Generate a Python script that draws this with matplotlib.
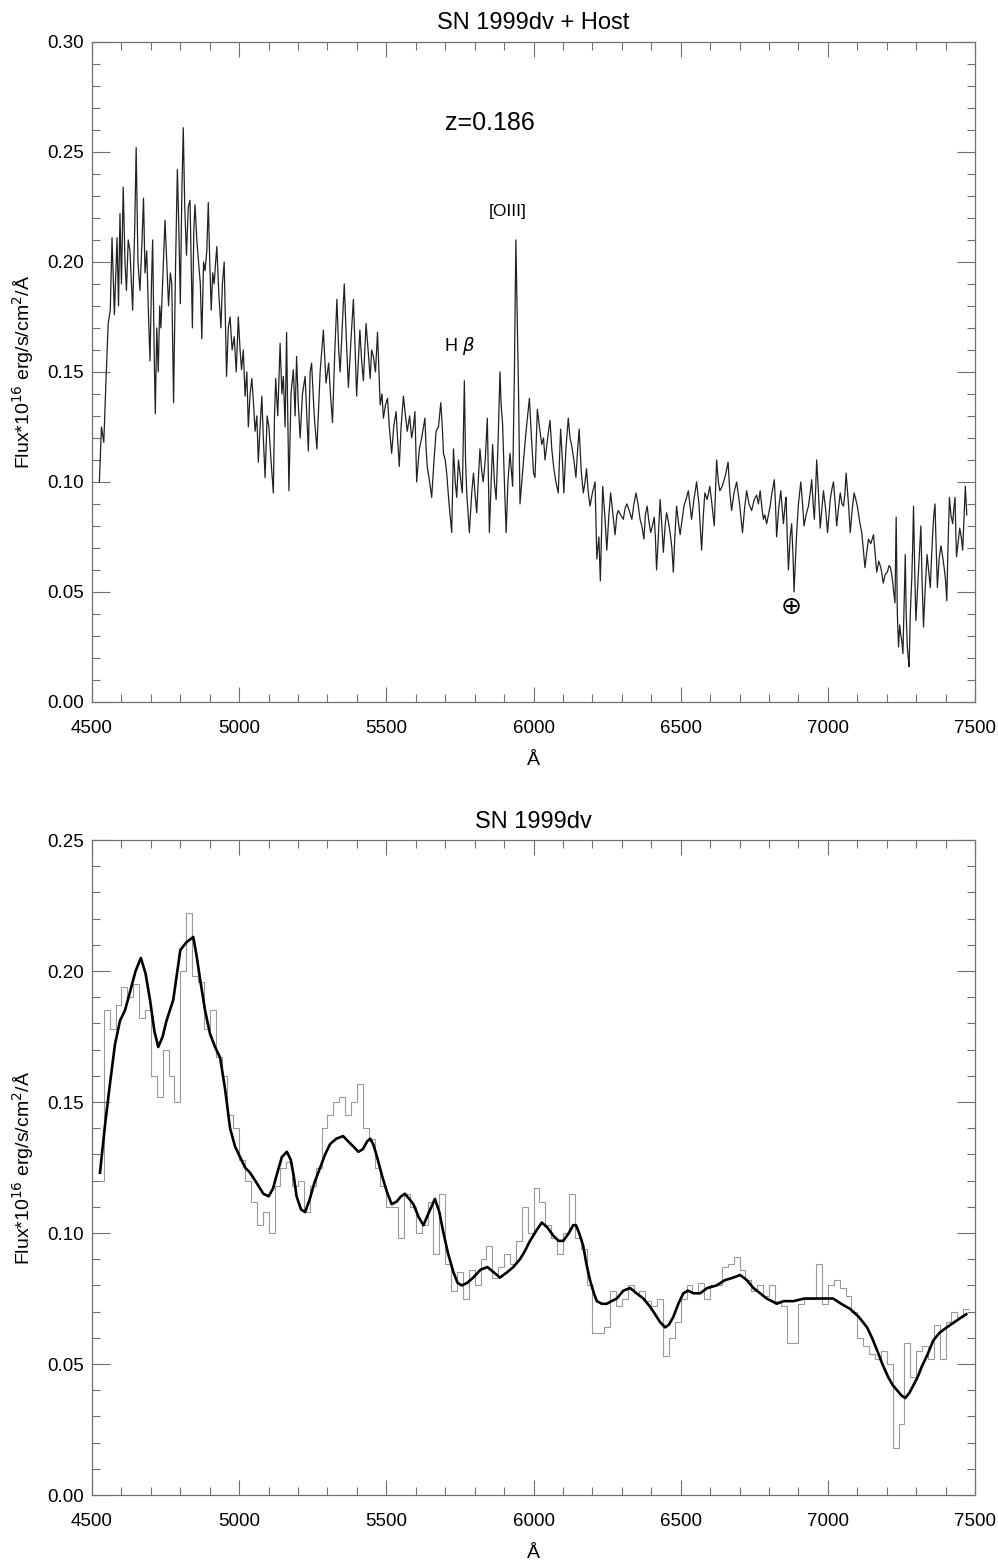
import numpy as np
import matplotlib
matplotlib.use('Agg')
import matplotlib.pyplot as plt
from matplotlib.ticker import MultipleLocator

plt.rcParams['font.family'] = ['Liberation Sans', 'DejaVu Sans']

# --- SN + host spectrum (top panel) ---
wave_host = [
    4525, 4532, 4540, 4548, 4555, 4562, 4568, 4576, 4585, 4590, 4595, 4600, 4606, 4612, 4617, 4623,
    4629, 4634, 4638, 4645, 4650, 4656, 4663, 4670, 4675, 4680, 4686, 4692, 4697, 4702, 4706, 4711,
    4715, 4720, 4725, 4730, 4734, 4741, 4748, 4754, 4760, 4766, 4771, 4777, 4784, 4790, 4795, 4800,
    4805, 4810, 4815, 4821, 4827, 4833, 4837, 4841, 4846, 4850, 4856, 4862, 4868, 4873, 4879, 4884,
    4890, 4895, 4900, 4905, 4910, 4915, 4920, 4924, 4931, 4938, 4943, 4949, 4953, 4957, 4963, 4969,
    4976, 4983, 4990, 4997, 5003, 5008, 5014, 5020, 5026, 5031, 5037, 5043, 5049, 5054, 5060, 5065,
    5071, 5077, 5082, 5088, 5095, 5101, 5108, 5116, 5120, 5124, 5131, 5139, 5145, 5150, 5156, 5161,
    5165, 5169, 5176, 5184, 5190, 5195, 5201, 5207, 5215, 5224, 5230, 5235, 5241, 5246, 5255, 5264,
    5275, 5286, 5295, 5304, 5310, 5317, 5325, 5332, 5338, 5343, 5350, 5357, 5364, 5371, 5380, 5388,
    5394, 5399, 5405, 5410, 5416, 5422, 5427, 5431, 5438, 5445, 5450, 5456, 5463, 5470, 5475, 5479,
    5485, 5490, 5497, 5504, 5510, 5518, 5525, 5533, 5538, 5544, 5550, 5558, 5565, 5571, 5579, 5586,
    5592, 5597, 5603, 5612, 5620, 5626, 5631, 5635, 5639, 5647, 5654, 5662, 5669, 5677, 5685, 5690,
    5694, 5700, 5705, 5713, 5722, 5728, 5734, 5739, 5745, 5750, 5758, 5765, 5769, 5773, 5778, 5782,
    5790, 5796, 5801, 5807, 5812, 5818, 5824, 5829, 5836, 5843, 5847, 5850, 5856, 5861, 5867, 5873,
    5880, 5886, 5890, 5895, 5901, 5907, 5913, 5920, 5925, 5929, 5935, 5940, 5945, 5949, 5954, 5960,
    5968, 5976, 5986, 5993, 6000, 6005, 6013, 6020, 6028, 6034, 6039, 6048, 6056, 6062, 6069, 6076,
    6084, 6092, 6098, 6103, 6110, 6118, 6124, 6129, 6137, 6144, 6150, 6155, 6162, 6169, 6175, 6180,
    6186, 6192, 6200, 6209, 6215, 6222, 6227, 6235, 6242, 6249, 6256, 6262, 6270, 6277, 6283, 6288,
    6296, 6305, 6311, 6317, 6325, 6334, 6341, 6348, 6355, 6362, 6368, 6375, 6380, 6386, 6392, 6398,
    6404, 6410, 6414, 6418, 6424, 6430, 6436, 6441, 6447, 6452, 6458, 6464, 6470, 6475, 6480, 6486,
    6492, 6498, 6505, 6511, 6518, 6526, 6531, 6537, 6545, 6554, 6562, 6571, 6577, 6582, 6590, 6599,
    6606, 6614, 6618, 6622, 6628, 6633, 6641, 6650, 6655, 6661, 6667, 6673, 6681, 6690, 6700, 6710,
    6717, 6724, 6732, 6741, 6750, 6758, 6764, 6770, 6776, 6781, 6786, 6792, 6798, 6804, 6810, 6818,
    6822, 6826, 6833, 6840, 6845, 6849, 6855, 6858, 6862, 6866, 6872, 6877, 6882, 6885, 6890, 6894,
    6900, 6908, 6914, 6919, 6926, 6934, 6940, 6945, 6950, 6954, 6958, 6962, 6968, 6974, 6980, 6985,
    6992, 6999, 7004, 7008, 7014, 7019, 7025, 7030, 7036, 7042, 7048, 7053, 7058, 7062, 7070, 7076,
    7083, 7089, 7095, 7100, 7108, 7115, 7120, 7126, 7132, 7138, 7146, 7155, 7160, 7166, 7173, 7180,
    7184, 7188, 7195, 7202, 7208, 7213, 7218, 7222, 7228, 7232, 7236, 7240, 7244, 7247, 7251, 7255,
    7259, 7263, 7266, 7270, 7273, 7276, 7280, 7285, 7288, 7291, 7295, 7299, 7304, 7308, 7312, 7316,
    7320, 7325, 7330, 7337, 7342, 7348, 7352, 7357, 7360, 7364, 7368, 7372, 7378, 7384, 7390, 7395,
    7400, 7404, 7408, 7413, 7418, 7424, 7428, 7432, 7435, 7437, 7442, 7448, 7453, 7458, 7463, 7467,
    7472]
flux_host = [
    0.100, 0.125, 0.118, 0.148, 0.172, 0.178, 0.211, 0.176, 0.211, 0.180, 0.222, 0.190, 0.234, 0.200, 0.187, 0.210,
    0.205, 0.190, 0.178, 0.215, 0.252, 0.200, 0.187, 0.210, 0.229, 0.195, 0.205, 0.175, 0.155, 0.190, 0.210, 0.160,
    0.131, 0.170, 0.150, 0.180, 0.170, 0.195, 0.219, 0.200, 0.180, 0.195, 0.190, 0.136, 0.200, 0.242, 0.215, 0.181,
    0.230, 0.261, 0.225, 0.203, 0.225, 0.228, 0.200, 0.170, 0.215, 0.226, 0.210, 0.200, 0.190, 0.165, 0.200, 0.196,
    0.205, 0.227, 0.200, 0.178, 0.195, 0.190, 0.200, 0.207, 0.185, 0.170, 0.190, 0.200, 0.175, 0.148, 0.170, 0.175,
    0.160, 0.166, 0.150, 0.175, 0.160, 0.151, 0.160, 0.139, 0.150, 0.125, 0.140, 0.147, 0.135, 0.123, 0.130, 0.109,
    0.125, 0.139, 0.120, 0.102, 0.130, 0.125, 0.110, 0.095, 0.130, 0.147, 0.130, 0.163, 0.140, 0.148, 0.125, 0.168,
    0.130, 0.096, 0.140, 0.151, 0.130, 0.157, 0.135, 0.120, 0.140, 0.148, 0.130, 0.114, 0.150, 0.154, 0.130, 0.115,
    0.150, 0.169, 0.145, 0.154, 0.140, 0.127, 0.160, 0.183, 0.160, 0.150, 0.170, 0.190, 0.165, 0.143, 0.165, 0.183,
    0.160, 0.139, 0.155, 0.169, 0.155, 0.146, 0.160, 0.172, 0.160, 0.147, 0.160, 0.157, 0.150, 0.168, 0.150, 0.135,
    0.140, 0.129, 0.135, 0.138, 0.125, 0.113, 0.125, 0.132, 0.120, 0.107, 0.125, 0.139, 0.130, 0.123, 0.130, 0.120,
    0.125, 0.132, 0.100, 0.115, 0.120, 0.125, 0.129, 0.115, 0.107, 0.100, 0.093, 0.110, 0.123, 0.125, 0.136, 0.125,
    0.113, 0.110, 0.104, 0.090, 0.077, 0.115, 0.100, 0.093, 0.110, 0.104, 0.095, 0.146, 0.110, 0.095, 0.085, 0.077,
    0.095, 0.104, 0.095, 0.086, 0.100, 0.115, 0.105, 0.100, 0.110, 0.129, 0.100, 0.077, 0.100, 0.117, 0.100, 0.092,
    0.120, 0.150, 0.135, 0.126, 0.100, 0.077, 0.100, 0.113, 0.105, 0.098, 0.150, 0.210, 0.170, 0.141, 0.090, 0.100,
    0.113, 0.125, 0.138, 0.120, 0.104, 0.102, 0.133, 0.125, 0.117, 0.120, 0.110, 0.120, 0.128, 0.115, 0.106, 0.100,
    0.095, 0.124, 0.110, 0.095, 0.115, 0.129, 0.120, 0.117, 0.110, 0.102, 0.115, 0.124, 0.105, 0.095, 0.100, 0.106,
    0.095, 0.089, 0.095, 0.100, 0.065, 0.075, 0.055, 0.098, 0.085, 0.069, 0.085, 0.095, 0.085, 0.076, 0.085, 0.087,
    0.085, 0.083, 0.088, 0.090, 0.087, 0.083, 0.090, 0.095, 0.090, 0.083, 0.080, 0.074, 0.085, 0.089, 0.082, 0.077,
    0.080, 0.084, 0.075, 0.060, 0.075, 0.092, 0.080, 0.068, 0.080, 0.086, 0.082, 0.077, 0.070, 0.059, 0.075, 0.089,
    0.082, 0.076, 0.083, 0.089, 0.092, 0.096, 0.090, 0.083, 0.092, 0.100, 0.090, 0.069, 0.085, 0.095, 0.092, 0.098,
    0.090, 0.080, 0.095, 0.110, 0.100, 0.096, 0.098, 0.102, 0.105, 0.109, 0.095, 0.087, 0.095, 0.100, 0.090, 0.077,
    0.088, 0.096, 0.090, 0.087, 0.092, 0.094, 0.090, 0.096, 0.088, 0.083, 0.085, 0.081, 0.085, 0.089, 0.095, 0.101,
    0.090, 0.075, 0.088, 0.096, 0.088, 0.081, 0.090, 0.093, 0.075, 0.060, 0.075, 0.081, 0.065, 0.050, 0.065, 0.077,
    0.090, 0.100, 0.090, 0.080, 0.085, 0.089, 0.095, 0.101, 0.090, 0.083, 0.095, 0.110, 0.095, 0.079, 0.088, 0.096,
    0.088, 0.077, 0.085, 0.092, 0.097, 0.100, 0.090, 0.080, 0.088, 0.095, 0.090, 0.089, 0.095, 0.104, 0.090, 0.077,
    0.088, 0.095, 0.092, 0.089, 0.082, 0.077, 0.070, 0.061, 0.068, 0.074, 0.072, 0.076, 0.068, 0.059, 0.064, 0.061,
    0.058, 0.054, 0.058, 0.059, 0.062, 0.061, 0.057, 0.052, 0.045, 0.084, 0.040, 0.025, 0.035, 0.031, 0.028, 0.022,
    0.045, 0.067, 0.040, 0.025, 0.020, 0.016, 0.040, 0.056, 0.070, 0.089, 0.060, 0.037, 0.050, 0.061, 0.070, 0.080,
    0.055, 0.034, 0.050, 0.067, 0.060, 0.052, 0.065, 0.079, 0.085, 0.090, 0.070, 0.052, 0.065, 0.071, 0.066, 0.061,
    0.055, 0.046, 0.070, 0.093, 0.085, 0.081, 0.088, 0.093, 0.075, 0.066, 0.072, 0.079, 0.075, 0.069, 0.085, 0.098,
    0.085]

# --- SN only: binned spectrum (grey steps), 20 A bins starting at 4520 ---
flux_binned = [
    0.120, 0.185, 0.178, 0.187, 0.194, 0.190, 0.195, 0.182, 0.185, 0.160, 0.152, 0.170, 0.160, 0.150, 0.200, 0.222,
    0.198, 0.196, 0.178, 0.185, 0.167, 0.160, 0.145, 0.140, 0.128, 0.120, 0.112, 0.103, 0.108, 0.100, 0.118, 0.125,
    0.127, 0.118, 0.120, 0.108, 0.118, 0.125, 0.140, 0.145, 0.150, 0.152, 0.145, 0.150, 0.157, 0.140, 0.136, 0.125,
    0.118, 0.110, 0.110, 0.098, 0.115, 0.110, 0.100, 0.103, 0.112, 0.092, 0.115, 0.088, 0.078, 0.085, 0.075, 0.086,
    0.080, 0.090, 0.095, 0.083, 0.087, 0.092, 0.088, 0.097, 0.110, 0.100, 0.117, 0.112, 0.103, 0.098, 0.092, 0.100,
    0.115, 0.098, 0.094, 0.080, 0.062, 0.062, 0.064, 0.078, 0.072, 0.075, 0.080, 0.077, 0.078, 0.074, 0.072, 0.075,
    0.053, 0.060, 0.066, 0.075, 0.080, 0.077, 0.081, 0.075, 0.080, 0.080, 0.087, 0.088, 0.091, 0.086, 0.082, 0.078,
    0.080, 0.076, 0.080, 0.074, 0.072, 0.058, 0.058, 0.073, 0.075, 0.075, 0.088, 0.073, 0.080, 0.082, 0.079, 0.076,
    0.070, 0.060, 0.057, 0.054, 0.052, 0.055, 0.050, 0.018, 0.027, 0.058, 0.045, 0.055, 0.057, 0.052, 0.065, 0.052,
    0.066, 0.070, 0.068, 0.071]
bin_edges = 4520 + 20 * np.arange(len(flux_binned) + 1)

# --- SN only: smoothed spectrum (black line) ---
wave_smooth = [
    4527, 4545, 4561, 4578, 4595, 4612, 4629, 4648, 4666, 4682, 4697, 4712, 4725, 4740, 4753, 4776,
    4790, 4800, 4821, 4844, 4855, 4867, 4884, 4901, 4918, 4935, 4952, 4969, 4986, 5003, 5020, 5037,
    5060, 5082, 5100, 5115, 5127, 5145, 5162, 5175, 5185, 5195, 5210, 5224, 5240, 5255, 5275, 5292,
    5309, 5330, 5353, 5370, 5388, 5405, 5420, 5435, 5445, 5455, 5466, 5485, 5501, 5518, 5535, 5550,
    5563, 5578, 5592, 5610, 5626, 5645, 5665, 5680, 5694, 5710, 5728, 5742, 5756, 5775, 5795, 5820,
    5843, 5865, 5886, 5910, 5931, 5954, 5970, 5988, 6010, 6028, 6048, 6067, 6085, 6101, 6120, 6135,
    6144, 6155, 6169, 6180, 6192, 6205, 6215, 6232, 6249, 6265, 6283, 6305, 6328, 6350, 6373, 6395,
    6413, 6430, 6447, 6460, 6475, 6492, 6509, 6525, 6543, 6566, 6590, 6622, 6650, 6679, 6702, 6725,
    6747, 6770, 6792, 6810, 6826, 6850, 6883, 6920, 6963, 6990, 7018, 7045, 7076, 7105, 7133, 7150,
    7168, 7185, 7205, 7220, 7235, 7250, 7263, 7277, 7291, 7305, 7319, 7340, 7358, 7380, 7404, 7430,
    7456, 7470]
flux_smooth = [
    0.123, 0.142, 0.157, 0.172, 0.181, 0.185, 0.192, 0.200, 0.205, 0.199, 0.189, 0.177, 0.171, 0.175, 0.181, 0.189,
    0.200, 0.208, 0.211, 0.213, 0.206, 0.197, 0.185, 0.176, 0.171, 0.167, 0.155, 0.140, 0.133, 0.129, 0.125, 0.123,
    0.119, 0.115, 0.114, 0.117, 0.122, 0.129, 0.131, 0.128, 0.122, 0.114, 0.109, 0.108, 0.113, 0.119, 0.125, 0.130,
    0.134, 0.136, 0.137, 0.135, 0.133, 0.131, 0.132, 0.135, 0.136, 0.134, 0.130, 0.122, 0.116, 0.111, 0.112, 0.114,
    0.115, 0.113, 0.111, 0.106, 0.103, 0.108, 0.113, 0.108, 0.100, 0.092, 0.085, 0.081, 0.080, 0.081, 0.083, 0.086,
    0.087, 0.085, 0.083, 0.085, 0.087, 0.090, 0.093, 0.097, 0.101, 0.104, 0.102, 0.099, 0.097, 0.097, 0.100, 0.103,
    0.103, 0.100, 0.095, 0.088, 0.082, 0.077, 0.074, 0.073, 0.073, 0.074, 0.075, 0.078, 0.079, 0.077, 0.075, 0.072,
    0.069, 0.066, 0.064, 0.065, 0.068, 0.073, 0.077, 0.078, 0.077, 0.077, 0.079, 0.080, 0.082, 0.083, 0.084, 0.082,
    0.079, 0.077, 0.075, 0.074, 0.073, 0.074, 0.074, 0.075, 0.075, 0.075, 0.075, 0.073, 0.071, 0.068, 0.064, 0.060,
    0.055, 0.050, 0.045, 0.042, 0.040, 0.038, 0.037, 0.039, 0.042, 0.045, 0.049, 0.054, 0.059, 0.062, 0.064, 0.066,
    0.068, 0.069]

ylabel = 'Flux*10$^{16}$ erg/s/cm$^2$/Å'

fig = plt.figure(figsize=(9.98, 15.64), dpi=100)
ax1 = fig.add_axes([0.0922, 0.5512, 0.8848, 0.4220])
ax2 = fig.add_axes([0.0922, 0.0441, 0.8848, 0.4188])

ax1.plot(wave_host, flux_host, color='#222222', lw=0.9)
ax2.stairs(flux_binned, bin_edges, color='#999999', lw=0.8, baseline=None)
ax2.plot(wave_smooth, flux_smooth, color='black', lw=1.9)

for ax, ymax, ttl in [(ax1, 0.30, 'SN 1999dv + Host'), (ax2, 0.25, 'SN 1999dv')]:
    ax.set_xlim(4500, 7500)
    ax.set_ylim(0, ymax)
    ax.xaxis.set_major_locator(MultipleLocator(500))
    ax.xaxis.set_minor_locator(MultipleLocator(100))
    ax.yaxis.set_major_locator(MultipleLocator(0.05))
    ax.yaxis.set_minor_locator(MultipleLocator(0.01))
    ax.yaxis.set_major_formatter(plt.FormatStrFormatter('%.2f'))
    ax.tick_params(which='both', direction='in', top=True, right=True,
                   color='#707070', width=0.8, labelsize=13.5)
    ax.tick_params(axis='x', which='major', length=11, pad=13)
    ax.tick_params(axis='y', which='major', length=13, pad=6)
    ax.tick_params(which='minor', length=6)
    for s in ax.spines.values():
        s.set_color('#707070')
        s.set_linewidth(0.9)
    ax.set_title(ttl, fontsize=17, pad=9)
    ax.set_xlabel('Å', fontsize=14, labelpad=11)
    ax.set_ylabel(ylabel, fontsize=14, labelpad=8)

ax1.text(5852, 0.263, 'z=0.186', fontsize=18, ha='center', va='center')
ax1.text(5913, 0.223, '[OIII]', fontsize=12.5, ha='center', va='center')
ax1.text(5750, 0.162, 'H $\\beta$', fontsize=13, ha='center', va='center')
ax1.text(6872, 0.043, '$\\oplus$', fontsize=18, ha='center', va='center')

fig.savefig('out.png', dpi=100)
